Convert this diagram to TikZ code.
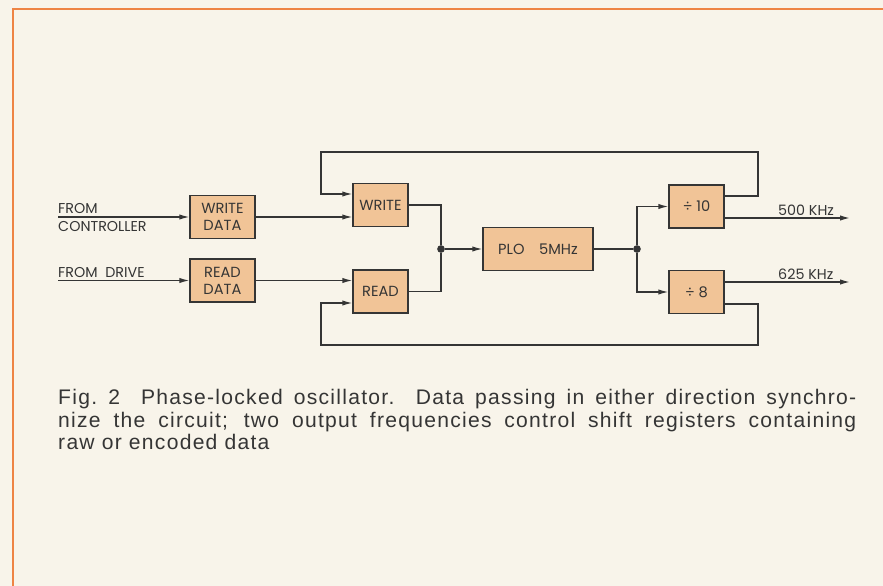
\documentclass[tikz,border=0pt]{standalone}
\usepackage{fontspec}
\setmainfont{Liberation Sans}
\newfontfamily\diagfont{Poppins}
\usetikzlibrary{arrows.meta, positioning, calc}
\definecolor{PaperCream}{HTML}{F8F4EA}
\definecolor{BorderOrange}{HTML}{EE8444}
\definecolor{BoxPeach}{HTML}{F1C497}
\definecolor{InkGray}{HTML}{353535}

\begin{document}
\begin{tikzpicture}[x=0.03cm, y=-0.03cm,
  block/.style={draw=InkGray, line width=1.1pt, fill=BoxPeach, minimum width=1.65cm, minimum height=1.29cm, font=\diagfont\fontsize{12.5}{14.5}\selectfont, align=center, text=InkGray, inner sep=1pt},
  wire/.style={draw=InkGray, line width=1.1pt},
  flow/.style={wire, -{Latex[length=3mm, width=1.6mm]}},
  tag/.style={font=\diagfont\fontsize{12.2}{14}\selectfont, text=InkGray, inner sep=0pt, anchor=base west},
  dot/.style={circle, fill=InkGray, inner sep=0pt, minimum size=0.23cm}
]
% Paper and frame
\fill[PaperCream] (0,0) rectangle (883,586);
\useasboundingbox (0,0) rectangle (883,586);
\draw[BorderOrange, line width=2pt] (13,590) -- (13,9) -- (890,9);

% Blocks
\node[block, minimum width=1.95cm] (wdata) at (222.5,217) {WRITE\\DATA};
\node[block, minimum width=1.95cm] (rdata) at (222.5,280.5) {READ\\DATA};
\node[block] (write) at (380.5,205) {WRITE};
\node[block] (read) at (380.5,291.5) {READ};
\node[block, minimum width=3.3cm] (plo) at (538,249) {PLO\quad 5MHz};
\node[block] (div10) at (696.5,206.5) {÷ 10};
\node[block] (div8) at (696.5,292) {÷ 8};

% Junctions and free ends
\node[dot] (jin) at (441,249) {};
\node[dot] (jout) at (637,249) {};
\coordinate (ctrl) at (58,217);
\coordinate (drive) at (58,280.5);
\coordinate (out500) at (850,218);
\coordinate (out625) at (850,282);
\coordinate (loopT) at (758,152);
\coordinate (loopB) at (758,345);

% Labels
\node[tag] (lfrom) at (58,213) {FROM};
\node[tag] (lctrl) at (58,231) {CONTROLLER};
\node[tag] (ldrive) at (58,277) {FROM\ \ DRIVE};
\node[tag] (l500) at (778,215) {500 KHz};
\node[tag] (l625) at (778,279) {625 KHz};

% Signal path
\draw[flow] (ctrl) -- (wdata.west);
\draw[flow] (drive) -- (rdata.west);
\draw[flow] (wdata.east) -- (wdata.east -| write.west);
\draw[flow] (rdata.east) -- (rdata.east -| read.west);
\draw[wire] (write.east) -| (jin);
\draw[wire] (read.east) -| (jin);
\draw[flow] (jin) -- (plo.west);
\draw[wire] (plo.east) -- (jout);
\draw[flow] (jout) |- (div10.west);
\draw[flow] (jout) |- (div8.west);
\draw[flow] (div10.east |- out500) -- (out500);
\draw[flow] (div8.east |- out625) -- (out625);

% Feedback loops
\draw[flow] (div10.east |- 0,196) -| (loopT) -| (321,194) -- (write.west |- 0,194);
\draw[flow] (div8.east |- 0,304) -| (loopB) -| (321,303) -- (read.west |- 0,303);

% Caption
\node[anchor=north west, inner sep=0pt, text width=23.94cm, align=justify, text=InkGray,
  font=\addfontfeatures{LetterSpace=6}\fontsize{18}{19.4}\selectfont] (caption) at (58,389)
  {Fig.~2\quad Phase-locked oscillator. Data passing in either direction synchro-\linebreak
   nize the circuit; two output frequencies control shift registers containing\linebreak
   raw or encoded data};
\end{tikzpicture}
\end{document}
